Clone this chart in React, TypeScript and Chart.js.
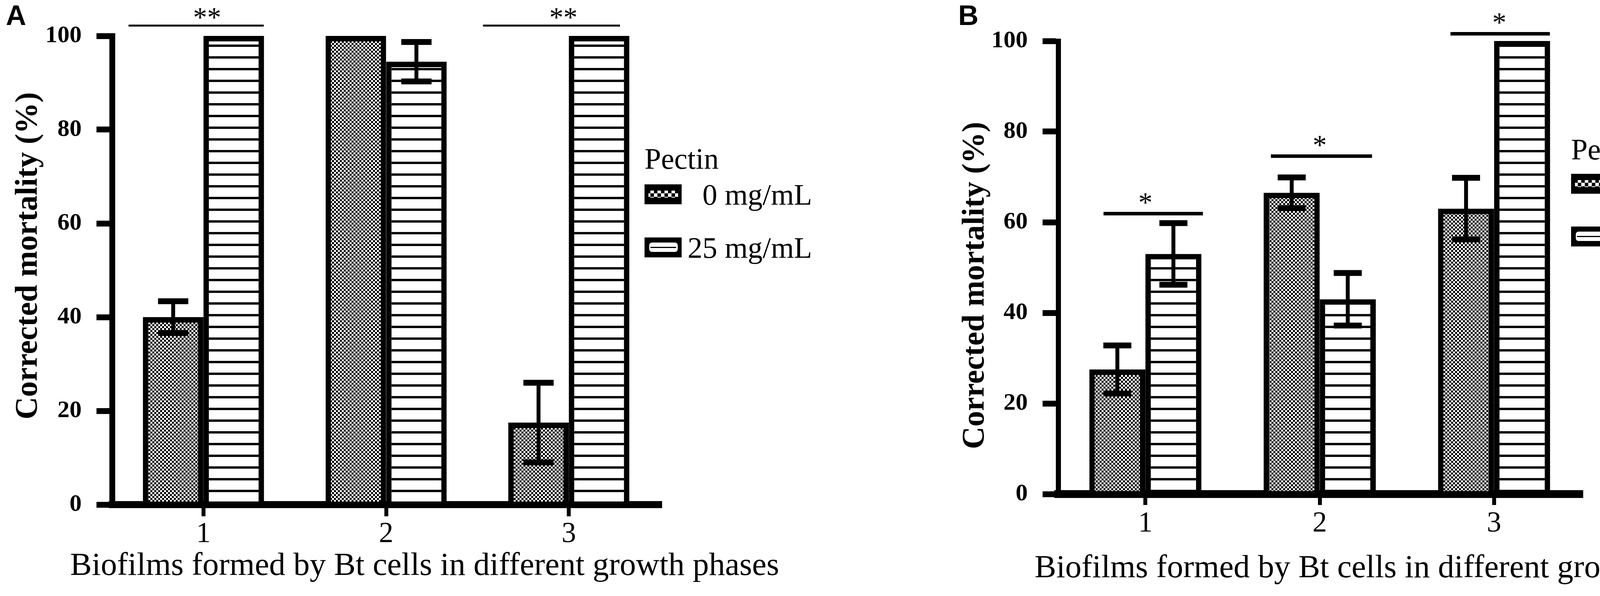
import { useEffect, useRef } from "react";
import { Chart, registerables } from "chart.js";

Chart.register(...registerables);

const SERIF = '"Liberation Serif", "Times New Roman", serif';
const SANS = '"Liberation Sans", Arial, sans-serif';

const categories = ["1", "2", "3"];
const yTickValues = [0, 20, 40, 60, 80, 100];
const legendTitle = "Pectin";
const seriesLabels = ["0 mg/mL", "25 mg/mL"];
const xTitle = "Biofilms formed by Bt cells in different growth phases";
const yTitle = "Corrected mortality (%)";

// panel A
const aZero = [40, 100, 17.5];
const aZeroErr = [3.4, 0, 8.5];
const aPectin = [100, 94.5, 100];
const aPectinErr = [0, 4.2, 0];
const aMarks = ["**", "", "**"];
const aMarkLevels = [102.2, 0, 102.2];

// panel B
const bZero = [27.5, 66.5, 63];
const bZeroErr = [5.3, 3.4, 6.8];
const bPectin = [53, 43, 100];
const bPectinErr = [6.8, 5.8, 0];
const bMarks = ["*", "*", "*"];
const bMarkLevels = [61.9, 74.6, 101.6];

type PanelConfig = {
  letter: string;
  left: number;
  values: number[][];
  errors: number[][];
  marks: string[];
  levels: number[];
  spans: number[][];
  markShift: number[];
  markOffset: number;
  sigWidth: number;
  padTop: number;
  padRight: number;
  yWidth: number;
  xHeight: number;
  groupPct: number;
  xBorder: number;
  yBorder: number;
  xTickLen: number;
  xTickPad: number;
  letterX: number;
  yTitleX: number;
  yTitleY: number;
  xTitleX: number;
  xTitleY: number;
  legendX: number;
  legendTitleY: number;
  legendBoxY: number[];
  legendTextRight: number;
};

const panelA: PanelConfig = {
  letter: "A",
  left: 0,
  values: [aZero, aPectin],
  errors: [aZeroErr, aPectinErr],
  marks: aMarks,
  levels: aMarkLevels,
  spans: [[-0.41, 0.33], [0, 0], [-0.47, 0.28]],
  markShift: [0.02, 0, -0.03],
  markOffset: -17,
  sigWidth: 5,
  padTop: 92,
  padRight: 585,
  yWidth: 287,
  xHeight: 234,
  groupPct: 0.663,
  xBorder: 18,
  yBorder: 15,
  xTickLen: 30,
  xTickPad: 2,
  letterX: 15,
  yTitleX: 94,
  yTitleY: 655,
  xTitleX: 1087,
  xTitleY: 1472,
  legendX: 1650,
  legendTitleY: 432,
  legendBoxY: [472, 608],
  legendTextRight: 2079,
};

const panelB: PanelConfig = {
  letter: "B",
  left: 2275,
  values: [bZero, bPectin],
  errors: [bZeroErr, bPectinErr],
  marks: bMarks,
  levels: bMarkLevels,
  spans: [[-0.24, 0.33], [-0.28, 0.3], [-0.25, 0.32]],
  markShift: [0, 0, 0.03],
  markOffset: -24,
  sigWidth: 9,
  padTop: 105,
  padRight: 502,
  yWidth: 434,
  xHeight: 261,
  groupPct: 0.643,
  xBorder: 20,
  yBorder: 13,
  xTickLen: 28,
  xTickPad: 4,
  letterX: 178,
  yTitleX: 243,
  yTitleY: 731,
  xTitleX: 1281,
  xTitleY: 1478,
  legendX: 1747,
  legendTitleY: 408,
  legendBoxY: [445, 580],
  legendTextRight: 2177,
};

function makeChecker(cell: number) {
  const c = document.createElement("canvas");
  c.width = cell * 2;
  c.height = cell * 2;
  const g = c.getContext("2d")!;
  g.fillStyle = "#fff";
  g.fillRect(0, 0, c.width, c.height);
  g.fillStyle = "#000";
  g.fillRect(0, 0, cell, cell);
  g.fillRect(cell, cell, cell, cell);
  return g.createPattern(c, "repeat")!;
}

function makeStripes(period: number, line: number) {
  const c = document.createElement("canvas");
  c.width = 4;
  c.height = period;
  const g = c.getContext("2d")!;
  g.fillStyle = "#fff";
  g.fillRect(0, 0, 4, period);
  g.fillStyle = "#000";
  g.fillRect(0, period - line, 4, line);
  return g.createPattern(c, "repeat")!;
}

function Panel({ cfg }: { cfg: PanelConfig }) {
  const canvasRef = useRef<HTMLCanvasElement | null>(null);
  const chartRef = useRef<Chart | null>(null);

  useEffect(() => {
    if (!canvasRef.current) {
      return;
    }
    const checker = makeChecker(5);
    const legendChecker = makeChecker(9);
    const stripes = makeStripes(30, 6);

    const errorBars = {
      id: "errorBars",
      afterDatasetsDraw(chart: Chart) {
        const { ctx } = chart;
        const ys = chart.scales.y;
        ctx.save();
        ctx.strokeStyle = "#000";
        chart.data.datasets.forEach((_ds, i) => {
          chart.getDatasetMeta(i).data.forEach((bar: any, j: number) => {
            const e = cfg.errors[i][j];
            if (!e) return;
            const v = cfg.values[i][j];
            const top = ys.getPixelForValue(v + e);
            const bottom = ys.getPixelForValue(v - e);
            const half = bar.width * 0.25;
            ctx.lineWidth = 10;
            ctx.beginPath();
            ctx.moveTo(bar.x, top);
            ctx.lineTo(bar.x, bottom);
            ctx.stroke();
            ctx.lineWidth = 15;
            ctx.beginPath();
            ctx.moveTo(bar.x - half, top);
            ctx.lineTo(bar.x + half, top);
            ctx.moveTo(bar.x - half, bottom);
            ctx.lineTo(bar.x + half, bottom);
            ctx.stroke();
          });
        });
        ctx.restore();
      },
    };

    const annotations = {
      id: "annotations",
      afterDraw(chart: Chart) {
        const { ctx } = chart;
        const xs = chart.scales.x;
        const ys = chart.scales.y;
        ctx.save();
        ctx.fillStyle = "#000";
        ctx.strokeStyle = "#000";

        ctx.font = `bold 72px ${SANS}`;
        ctx.textAlign = "left";
        ctx.textBaseline = "alphabetic";
        ctx.fillText(cfg.letter, cfg.letterX, 64);

        ctx.save();
        ctx.translate(cfg.yTitleX, cfg.yTitleY);
        ctx.rotate(-Math.PI / 2);
        ctx.font = `bold 80px ${SERIF}`;
        ctx.textAlign = "center";
        ctx.fillText(yTitle, 0, 0);
        ctx.restore();

        ctx.font = `83px ${SERIF}`;
        ctx.textAlign = "center";
        ctx.fillText(xTitle, cfg.xTitleX, cfg.xTitleY);

        // significance bars
        cfg.marks.forEach((m, i) => {
          if (!m) return;
          const [from, to] = cfg.spans[i];
          const yPix = ys.getPixelForValue(cfg.levels[i]);
          ctx.lineWidth = cfg.sigWidth;
          ctx.beginPath();
          ctx.moveTo(xs.getPixelForValue(i + from), yPix);
          ctx.lineTo(xs.getPixelForValue(i + to), yPix);
          ctx.stroke();
          ctx.font = `72px ${SERIF}`;
          ctx.textAlign = "center";
          ctx.textBaseline = "middle";
          ctx.fillText(m, xs.getPixelForValue(i + cfg.markShift[i]), yPix + cfg.markOffset);
          ctx.textBaseline = "alphabetic";
        });

        // legend
        ctx.font = `76px ${SERIF}`;
        ctx.textAlign = "left";
        ctx.fillText(legendTitle, cfg.legendX, cfg.legendTitleY);
        cfg.legendBoxY.forEach((top, i) => {
          const x = cfg.legendX;
          ctx.fillStyle = "#000";
          ctx.fillRect(x, top, 95, 51);
          if (i === 0) {
            ctx.fillStyle = legendChecker;
            ctx.fillRect(x + 10, top + 16, 76, 18);
          } else {
            ctx.fillStyle = "#fff";
            ctx.beginPath();
            ctx.roundRect(x + 12, top + 13, 73, 24, 7);
            ctx.fill();
            ctx.fillStyle = "#000";
            ctx.fillRect(x + 15, top + 24, 66, 3);
          }
          ctx.fillStyle = "#000";
          ctx.textAlign = "right";
          ctx.fillText(seriesLabels[i], cfg.legendTextRight, top + 52);
          ctx.textAlign = "left";
        });
        ctx.restore();
      },
    };

    chartRef.current?.destroy();
    chartRef.current = new Chart(canvasRef.current, {
      type: "bar",
      data: {
        labels: categories,
        datasets: [
          {
            label: seriesLabels[0],
            data: cfg.values[0],
            backgroundColor: checker,
            borderColor: "#000",
            borderWidth: 14,
            categoryPercentage: cfg.groupPct,
            barPercentage: 1,
          },
          {
            label: seriesLabels[1],
            data: cfg.values[1],
            backgroundColor: stripes,
            borderColor: "#000",
            borderWidth: 14,
            categoryPercentage: cfg.groupPct,
            barPercentage: 1,
          },
        ],
      },
      options: {
        animation: false,
        responsive: true,
        maintainAspectRatio: false,
        layout: { padding: { top: cfg.padTop, right: cfg.padRight, left: 0, bottom: 0 } },
        plugins: {
          legend: { display: false },
          tooltip: { enabled: false },
        },
        scales: {
          x: {
            z: 1,
            grid: {
              offset: false,
              drawOnChartArea: false,
              drawTicks: true,
              tickLength: cfg.xTickLen,
              lineWidth: 10,
              color: "#000",
            },
            border: { display: true, width: cfg.xBorder, color: "#000" },
            ticks: { color: "#000", padding: cfg.xTickPad, font: { family: SERIF, size: 74 } },
            afterFit: (s: any) => {
              s.height = cfg.xHeight;
            },
          },
          y: {
            z: 1,
            min: 0,
            max: 100,
            afterBuildTicks: (s: any) => {
              s.ticks = yTickValues.map((v) => ({ value: v }));
            },
            grid: { drawOnChartArea: false, tickLength: 40, lineWidth: 15, color: "#000" },
            border: { display: true, width: cfg.yBorder, color: "#000" },
            ticks: {
              color: "#000",
              padding: 38,
              font: { family: SERIF, size: 62, weight: "bold" },
            },
            afterFit: (s: any) => {
              s.width = cfg.yWidth;
            },
          },
        },
      },
      plugins: [errorBars, annotations],
    });

    return () => {
      chartRef.current?.destroy();
      chartRef.current = null;
    };
  }, [cfg]);

  return (
    <div style={{ position: "absolute", left: cfg.left, top: 0, width: 2275, height: 1526 }}>
      <canvas ref={canvasRef} />
    </div>
  );
}

export default function App() {
  return (
    <div
      style={{
        position: "absolute",
        left: 0,
        top: 0,
        width: 4550,
        height: 1526,
        background: "#fff",
        overflow: "hidden",
      }}
    >
      <Panel cfg={panelA} />
      <Panel cfg={panelB} />
    </div>
  );
}
